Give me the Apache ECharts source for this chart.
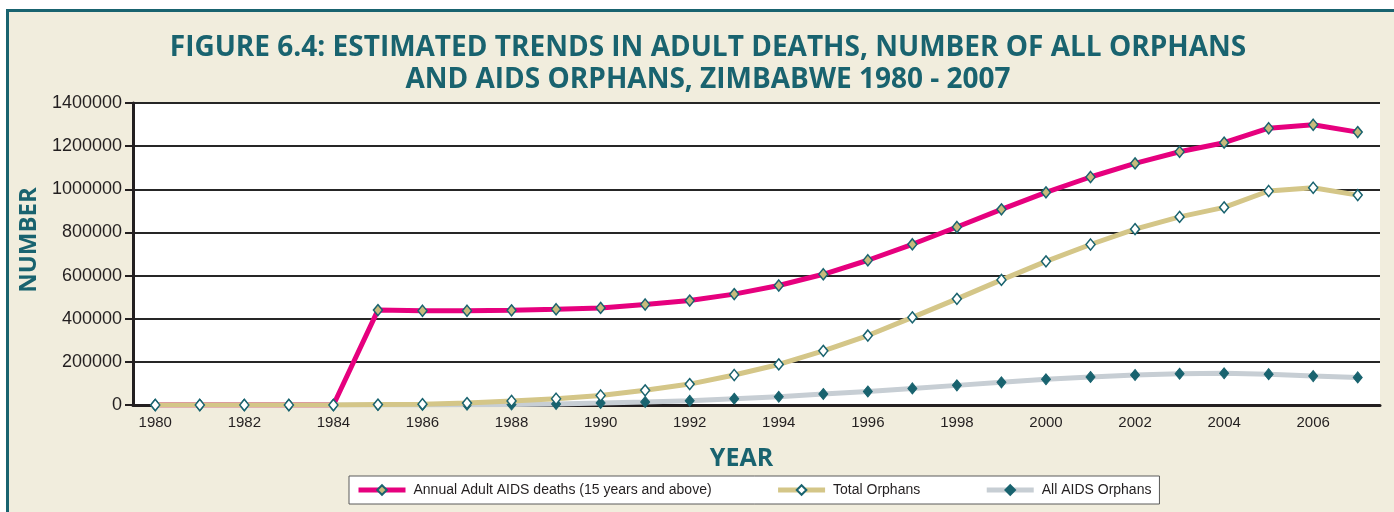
<!DOCTYPE html>
<html>
<head>
<meta charset="utf-8">
<script src="https://cdn.jsdelivr.net/npm/echarts@6/dist/echarts.min.js"></script>
<style>
  html, body { margin: 0; padding: 0; background: #ffffff; }
  #main { width: 1394px; height: 512px; }
</style>
</head>
<body>
<div id="main"></div>
<script>
var years = ['1980','1981','1982','1983','1984','1985','1986','1987','1988','1989',
             '1990','1991','1992','1993','1994','1995','1996','1997','1998','1999',
             '2000','2001','2002','2003','2004','2005','2006','2007'];

// Annual Adult AIDS deaths (15 years and above)
var adultDeaths = [0, 0, 0, 0, 0, 440000, 437000, 437000, 439000, 444000,
                   450000, 466000, 484000, 514000, 554000, 606000, 671000, 745000, 825000, 907000,
                   986000, 1057000, 1120000, 1174000, 1216000, 1283000, 1299000, 1265000];

// Total Orphans
var totalOrphans = [0, 0, 0, 0, 0, 2000, 4000, 9000, 19000, 29000,
                    44000, 68000, 97000, 139000, 188000, 251000, 322000, 406000, 492000, 580000,
                    666000, 744000, 815000, 872000, 916000, 992000, 1007000, 973000];

// All AIDS Orphans
var aidsOrphans = [0, 0, 0, 0, 0, 0, 0, 1000, 2000, 5000,
                   9000, 14000, 20000, 29000, 38000, 51000, 63000, 77000, 91000, 105000,
                   119000, 130000, 139000, 145000, 147000, 143000, 134000, 128000];

var yTicks = { min: 0, max: 1400000, step: 200000 };

var teal = '#19636F';
var ink = '#231F20';

var chart = echarts.init(document.getElementById('main'));

var option = {
  backgroundColor: 'transparent',
  animation: false,
  graphic: [
    // cream panel with teal frame
    { type: 'rect', z: -10, shape: { x: 6, y: 9, width: 1388, height: 503 }, style: { fill: '#F1EDDD' } },
    { type: 'rect', z: -9, shape: { x: 6, y: 9, width: 1388, height: 3 }, style: { fill: teal } },
    { type: 'rect', z: -9, shape: { x: 6, y: 9, width: 3, height: 503 }, style: { fill: teal } }
  ],
  title: {
    text: 'FIGURE 6.4: ESTIMATED TRENDS IN ADULT DEATHS, NUMBER OF ALL ORPHANS\nAND AIDS ORPHANS, ZIMBABWE 1980 - 2007',
    left: 703,
    top: 27,
    textAlign: 'center',
    textStyle: {
      fontFamily: 'Open Sans',
      fontWeight: 'bold',
      fontSize: 28,
      lineHeight: 32,
      color: teal
    }
  },
  legend: {
    left: 349,
    top: 476,
    itemWidth: 47,
    itemHeight: 12,
    itemGap: 64,
    padding: [7, 8, 7, 7],
    backgroundColor: '#ffffff',
    borderColor: '#5a5a5a',
    borderWidth: 1,
    lineStyle: { width: 5 },
    textStyle: {
      fontFamily: 'Liberation Sans',
      fontSize: 14,
      color: ink,
      padding: [0, 0, 0, 3]
    },
    data: ['Annual Adult AIDS deaths (15 years and above)', 'Total Orphans', 'All AIDS Orphans']
  },
  grid: {
    left: 133,
    right: 14,
    top: 103,
    bottom: 107,
    show: true,
    backgroundColor: '#ffffff',
    borderWidth: 0
  },
  xAxis: {
    type: 'category',
    data: years,
    boundaryGap: true,
    name: 'YEAR',
    nameLocation: 'middle',
    nameGap: 41,
    nameTextStyle: {
      fontFamily: 'Open Sans',
      fontWeight: 'bold',
      fontSize: 25,
      color: teal,
      padding: [0, 30, 0, 0]
    },
    axisLine: { lineStyle: { color: ink, width: 3 } },
    axisTick: { interval: 0, length: 6, lineStyle: { color: ink, width: 2 } },
    axisLabel: {
      interval: 1,
      margin: 10,
      fontFamily: 'Liberation Sans',
      fontSize: 15,
      color: ink
    },
    splitLine: { show: false }
  },
  yAxis: {
    type: 'value',
    min: yTicks.min,
    max: yTicks.max,
    interval: yTicks.step,
    name: 'NUMBER',
    nameLocation: 'middle',
    nameRotate: 90,
    nameGap: 84,
    nameTextStyle: {
      fontFamily: 'Open Sans',
      fontWeight: 'bold',
      fontSize: 24,
      color: teal,
      padding: [0, 0, 0, 28]
    },
    axisLine: { show: true, lineStyle: { color: ink, width: 3 } },
    axisTick: { show: true, length: 8, lineStyle: { color: ink, width: 2 } },
    axisLabel: {
      margin: 11,
      fontFamily: 'Liberation Sans',
      fontSize: 18,
      color: ink,
      formatter: function (v) { return String(v); }
    },
    splitLine: { lineStyle: { color: '#262626', width: 2 } }
  },
  series: [
    {
      name: 'Annual Adult AIDS deaths (15 years and above)',
      type: 'line',
      data: adultDeaths,
      z: 3,
      symbol: 'diamond',
      symbolSize: [9, 11],
      lineStyle: { color: '#E6007E', width: 5 },
      itemStyle: { color: '#C8BA7C', borderColor: teal, borderWidth: 1.5 }
    },
    {
      name: 'Total Orphans',
      type: 'line',
      data: totalOrphans,
      z: 4,
      symbol: 'diamond',
      symbolSize: [9, 11],
      lineStyle: { color: '#D4C688', width: 5 },
      itemStyle: { color: '#ffffff', borderColor: teal, borderWidth: 1.5 }
    },
    {
      name: 'All AIDS Orphans',
      type: 'line',
      data: aidsOrphans,
      z: 2,
      symbol: 'diamond',
      symbolSize: [9, 11],
      lineStyle: { color: '#C7CED4', width: 5 },
      itemStyle: { color: teal, borderColor: teal, borderWidth: 1 }
    }
  ]
};

chart.setOption(option);
</script>
</body>
</html>
